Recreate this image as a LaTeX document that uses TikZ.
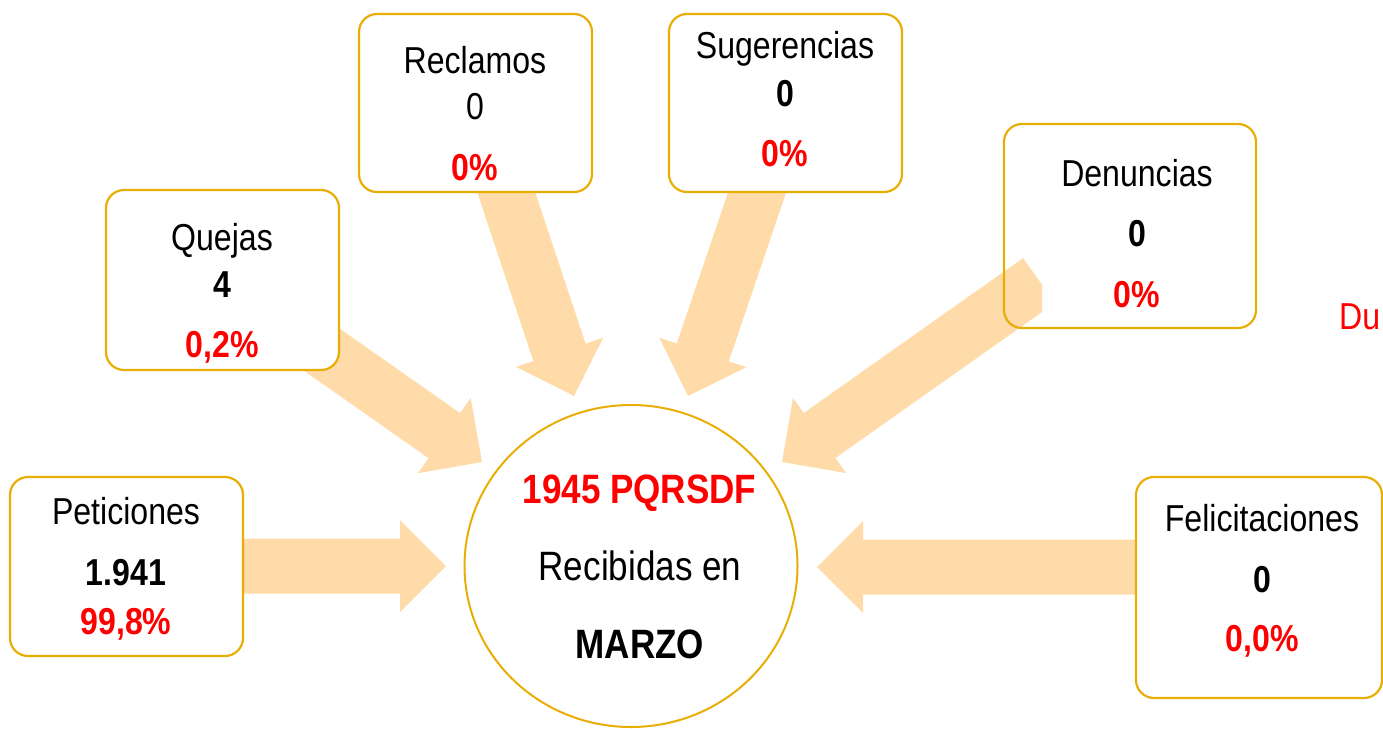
\documentclass[tikz,border=0pt]{standalone}
\usepackage{fontspec}
\setmainfont{Liberation Sans}[FakeStretch=0.855]
\usetikzlibrary{calc,shapes.geometric}
\definecolor{gold}{RGB}{232,174,6}
\definecolor{arrowfill}{RGB}{254,219,168}
\definecolor{pred}{RGB}{255,0,0}
\newcommand\blockarrow[2]{%
  \coordinate (bh) at ($(#2)!46pt!(#1)$);
  \fill[arrowfill] ($(#1)!27.5pt!90:(#2)$) -- ($(bh)!27.5pt!-90:(#1)$) -- ($(bh)!46pt!-90:(#1)$) -- (#2) -- ($(bh)!46pt!90:(#1)$) -- ($(bh)!27.5pt!90:(#1)$) -- ($(#1)!27.5pt!-90:(#2)$) -- cycle;}
\tikzset{
  box/.style={draw=gold, line width=2.2pt, rounded corners=18pt, fill=white, inner sep=0pt},
  lbl/.style={anchor=base, inner sep=0pt, font=\fontsize{37.5}{40}\selectfont},
  num/.style={lbl, font=\fontsize{37.5}{40}\selectfont\bfseries},
  pct/.style={num, text=pred},
  big/.style={anchor=base, inner sep=0pt, font=\fontsize{41}{44}\selectfont}
}
\begin{document}
\begin{tikzpicture}[x=1pt,y=-1pt]
\useasboundingbox (0,0) rectangle (1383,728);
\clip (0,0) rectangle (1383,728);
% arrow end points
\coordinate (petT) at (230,566);   \coordinate (petH) at (446,566);
\coordinate (queT) at (318,347);   \coordinate (queH) at (482,462);
\coordinate (recT) at (501.5,178); \coordinate (recH) at (574,396);
\coordinate (sugT) at (762,178);   \coordinate (sugH) at (688,396);
\coordinate (denT) at (1039,280.5);\coordinate (denH) at (782,462);
\coordinate (felT) at (1150,567);  \coordinate (felH) at (817,567);
\blockarrow{petT}{petH}
\blockarrow{queT}{queH}
\blockarrow{recT}{recH}
\blockarrow{sugT}{sugH}
\blockarrow{felT}{felH}
\begin{scope}
  \clip (0,0) rectangle (1042,728);
  \blockarrow{denT}{denH}
\end{scope}
% boxes
\node[box, minimum width=233pt, minimum height=179pt] (pet) at (126.5,566.5) {};
\node[box, minimum width=233pt, minimum height=180pt] (que) at (222.5,280) {};
\node[box, minimum width=233pt, minimum height=178pt] (rec) at (475.5,103) {};
\node[box, minimum width=233pt, minimum height=178pt] (sug) at (785.5,103) {};
\node[box, fill=none, minimum width=252pt, minimum height=204pt] (den) at (1130,226) {};
\node[box, minimum width=246pt, minimum height=221pt] (fel) at (1259,587.5) {};
\node[draw=gold, line width=2pt, ellipse, inner sep=0pt, minimum width=333pt, minimum height=322pt] (cen) at (631,566) {};
% texts
\node[lbl] (petA) at (126,524) {Peticiones};
\node[num] (petB) at (126,585) {1.941};
\node[pct] (petC) at (126,634) {99,8\%};
\node[lbl] (queA) at (222,250) {Quejas};
\node[num] (queB) at (222,297) {4};
\node[pct] (queC) at (222,357) {0,2\%};
\node[lbl] (recA) at (475,73) {Reclamos};
\node[lbl] (recB) at (475,119) {0};
\node[pct] (recC) at (475,180) {0\%};
\node[lbl] (sugA) at (785,58) {Sugerencias};
\node[num] (sugB) at (785,106) {0};
\node[pct] (sugC) at (785,166) {0\%};
\node[lbl] (denA) at (1137,186) {Denuncias};
\node[num] (denB) at (1137,246) {0};
\node[pct] (denC) at (1137,307) {0\%};
\node[lbl] (felA) at (1262,531) {Felicitaciones};
\node[num] (felB) at (1262,592) {0};
\node[pct] (felC) at (1262,651) {0,0\%};
\node[big, font=\fontsize{41}{44}\selectfont\bfseries, text=pred] (cenA) at (639.5,503) {1945 PQRSDF};
\node[big] (cenB) at (640,580) {Recibidas en};
\node[big, font=\fontsize{41}{44}\selectfont\bfseries] (cenC) at (640,658) {MARZO};
\node[lbl, anchor=base west, text=pred] (du) at (1339,329) {Du};
\end{tikzpicture}
\end{document}
